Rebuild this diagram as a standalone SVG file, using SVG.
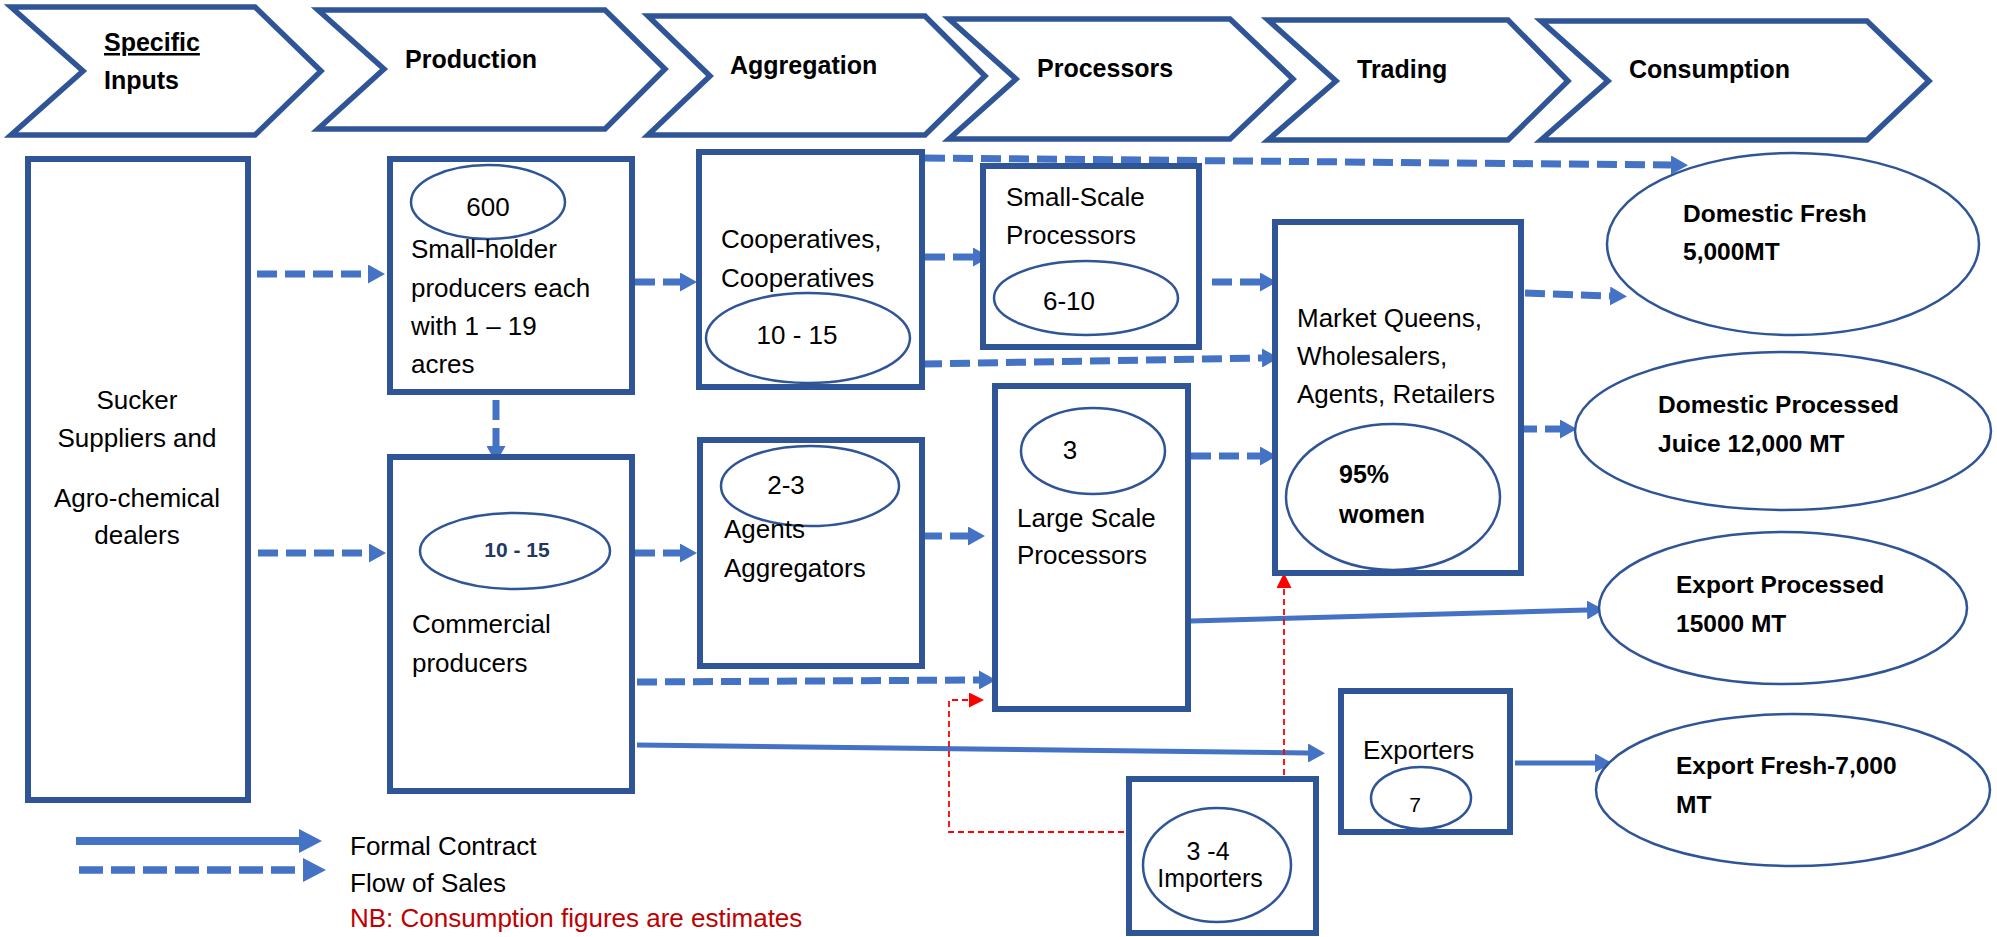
<svg xmlns="http://www.w3.org/2000/svg" width="1997" height="937" viewBox="0 0 1997 937">
<style>
.chev{fill:#fff;stroke:#2F5597;stroke-width:5.5;stroke-linejoin:miter}
.box{fill:#fff;stroke:#2F5597;stroke-width:6}
.ell{fill:#fff;stroke:#2F5597;stroke-width:2.5}
.t{font-family:"Liberation Sans",Arial,sans-serif;font-size:26px;fill:#000}
.hb{font-family:"Liberation Sans",Arial,sans-serif;font-size:25px;font-weight:bold;fill:#000}
.cb{font-family:"Liberation Sans",Arial,sans-serif;font-size:24.5px;font-weight:bold;fill:#000}
.dash{fill:none;stroke:#4472C4;stroke-width:7;stroke-dasharray:20 8}
.solid{fill:none;stroke:#4472C4;stroke-width:5}
.red{fill:none;stroke:#FF0000;stroke-width:1.8;stroke-dasharray:6 4}
</style>
<defs>
<marker id="ah" markerUnits="userSpaceOnUse" markerWidth="17" markerHeight="19" refX="0" refY="9.5" orient="auto">
<polygon points="0,0 17,9.5 0,19" fill="#4472C4"/>
</marker>
<marker id="ahL" markerUnits="userSpaceOnUse" markerWidth="23" markerHeight="24" refX="0" refY="12" orient="auto">
<polygon points="0,0 23,12 0,24" fill="#4472C4"/>
</marker>
<marker id="ahR" markerUnits="userSpaceOnUse" markerWidth="15" markerHeight="15" refX="0" refY="7.5" orient="auto">
<polygon points="0,0 15,7.5 0,15" fill="#FF0000"/>
</marker>
</defs>

<g id="stages">
<g id="stage-inputs">
<polygon class="chev" points="11,7 255,7 321,71 255,135 11,135 83,71"/>
<text class="hb" x="104" y="51" text-decoration="underline">Specific</text>
<text class="hb" x="104" y="89">Inputs</text>
</g>
<g id="stage-production">
<polygon class="chev" points="318,10 605,10 665,69 605,129 318,129 384,69"/>
<text class="hb" x="405" y="68">Production</text>
</g>
<g id="stage-aggregation">
<polygon class="chev" points="648,16 925,16 985,76 925,135 648,135 710,76"/>
<text class="hb" x="730" y="74">Aggregation</text>
</g>
<g id="stage-processors">
<polygon class="chev" points="949,19 1230,19 1293,79 1230,139 949,139 1016,79"/>
<text class="hb" x="1037" y="77">Processors</text>
</g>
<g id="stage-trading">
<polygon class="chev" points="1268,20 1508,20 1568,81 1508,140 1268,140 1336,81"/>
<text class="hb" x="1357" y="78">Trading</text>
</g>
<g id="stage-consumption">
<polygon class="chev" points="1541,21 1867,21 1929,81 1867,140 1541,140 1608,81"/>
<text class="hb" x="1629" y="78">Consumption</text>
</g>
</g>

<g id="connectors">
<path class="dash" d="M257,274 H368" marker-end="url(#ah)"/>
<path class="dash" d="M258,553 H369" marker-end="url(#ah)"/>
<path class="dash" d="M496,400 V446" marker-end="url(#ah)"/>
<path class="dash" d="M635,282 H680" marker-end="url(#ah)"/>
<path class="dash" d="M635,553 H680" marker-end="url(#ah)"/>
<path class="dash" d="M637,682 L979,680" marker-end="url(#ah)"/>
<path class="dash" d="M925,257 H973" marker-end="url(#ah)"/>
<path class="dash" d="M922,364 L1262,358" marker-end="url(#ah)"/>
<path class="dash" d="M925,158 L1671,165" marker-end="url(#ah)"/>
<path class="dash" d="M922,536 H968" marker-end="url(#ah)"/>
<path class="dash" d="M1212,282 H1260" marker-end="url(#ah)"/>
<path class="dash" d="M1191,456 H1260" marker-end="url(#ah)"/>
<path class="dash" d="M1525,293 L1610,296" marker-end="url(#ah)"/>
<path class="dash" d="M1517,429 H1560" marker-end="url(#ah)"/>
<path class="solid" d="M1191,621 L1587,610" marker-end="url(#ah)"/>
<path class="solid" d="M637,745 L1308,753" marker-end="url(#ah)"/>
<path class="solid" d="M1515,763 H1595" marker-end="url(#ah)"/>
<path class="red" d="M1124,832 H949 V700 H969" marker-end="url(#ahR)"/>
<path class="red" d="M1284,795 V588" marker-end="url(#ahR)"/>
</g>

<g id="n-inputs">
<rect class="box" x="28" y="159" width="220" height="641"/>
<text class="t" text-anchor="middle" x="137" y="409">Sucker</text>
<text class="t" text-anchor="middle" x="137" y="447">Suppliers and</text>
<text class="t" text-anchor="middle" x="137" y="507">Agro-chemical</text>
<text class="t" text-anchor="middle" x="137" y="544">dealers</text>
</g>

<g id="n-smallholder">
<rect class="box" x="390" y="159" width="242" height="233"/>
<ellipse class="ell" cx="488" cy="202" rx="77" ry="37"/>
<text class="t" text-anchor="middle" x="488" y="216">600</text>
<text class="t" x="411" y="258">Small-holder</text>
<text class="t" x="411" y="297">producers each</text>
<text class="t" x="411" y="335">with 1 – 19</text>
<text class="t" x="411" y="373">acres</text>
</g>

<g id="n-commercial">
<rect class="box" x="390" y="457" width="242" height="334"/>
<ellipse class="ell" cx="515" cy="551" rx="95" ry="38"/>
<text class="t" text-anchor="middle" x="517" y="557" style="font-size:21px;font-weight:bold;fill:#1F3864">10 - 15</text>
<text class="t" x="412" y="633">Commercial</text>
<text class="t" x="412" y="672">producers</text>
</g>

<g id="n-cooperatives">
<rect class="box" x="699" y="152" width="223" height="235"/>
<text class="t" x="721" y="248">Cooperatives,</text>
<text class="t" x="721" y="287">Cooperatives</text>
<ellipse class="ell" cx="808" cy="338" rx="102" ry="45"/>
<text class="t" text-anchor="middle" x="797" y="344">10 - 15</text>
</g>

<g id="n-agents">
<rect class="box" x="700" y="440" width="222" height="226"/>
<ellipse class="ell" cx="810" cy="486" rx="89" ry="40"/>
<text class="t" text-anchor="middle" x="786" y="494">2-3</text>
<text class="t" x="724" y="538">Agents</text>
<text class="t" x="724" y="577">Aggregators</text>
</g>

<g id="n-smallscale">
<rect class="box" x="983" y="166" width="216" height="181"/>
<text class="t" x="1006" y="206">Small-Scale</text>
<text class="t" x="1006" y="244">Processors</text>
<ellipse class="ell" cx="1086" cy="298" rx="92" ry="37"/>
<text class="t" text-anchor="middle" x="1069" y="310">6-10</text>
</g>

<g id="n-largescale">
<rect class="box" x="995" y="386" width="193" height="323"/>
<ellipse class="ell" cx="1093" cy="451" rx="72" ry="43"/>
<text class="t" text-anchor="middle" x="1070" y="459">3</text>
<text class="t" x="1017" y="527">Large Scale</text>
<text class="t" x="1017" y="564">Processors</text>
</g>

<g id="n-market">
<rect class="box" x="1275" y="222" width="246" height="351"/>
<text class="t" x="1297" y="327">Market Queens,</text>
<text class="t" x="1297" y="365">Wholesalers,</text>
<text class="t" x="1297" y="403">Agents, Retailers</text>
<ellipse class="ell" cx="1393" cy="497" rx="107" ry="73"/>
<text class="t" x="1339" y="483" style="font-weight:bold;font-size:25px">95%</text>
<text class="t" x="1339" y="523" style="font-weight:bold;font-size:25px">women</text>
</g>

<g id="n-exporters">
<rect class="box" x="1341" y="691" width="169" height="141"/>
<text class="t" x="1363" y="759">Exporters</text>
<ellipse class="ell" cx="1421" cy="798" rx="50" ry="31"/>
<text class="t" text-anchor="middle" x="1415" y="812" style="font-size:21px">7</text>
</g>

<g id="n-importers">
<rect class="box" x="1129" y="779" width="187" height="154"/>
<ellipse class="ell" cx="1217" cy="865" rx="74" ry="57"/>
<text class="t" text-anchor="middle" x="1208" y="860" style="font-size:25px">3 -4</text>
<text class="t" text-anchor="middle" x="1210" y="887" style="font-size:25px">Importers</text>
</g>

<g id="n-domfresh">
<ellipse class="ell" cx="1793" cy="244" rx="186" ry="91"/>
<text class="cb" x="1683" y="222">Domestic Fresh</text>
<text class="cb" x="1683" y="260">5,000MT</text>
</g>

<g id="n-domproc">
<ellipse class="ell" cx="1783" cy="431" rx="208" ry="79"/>
<text class="cb" x="1658" y="413">Domestic Processed</text>
<text class="cb" x="1658" y="452">Juice 12,000 MT</text>
</g>

<g id="n-expproc">
<ellipse class="ell" cx="1783" cy="608" rx="184" ry="76"/>
<text class="cb" x="1676" y="593">Export Processed</text>
<text class="cb" x="1676" y="632">15000 MT</text>
</g>

<g id="n-expfresh">
<ellipse class="ell" cx="1793" cy="790" rx="197" ry="76"/>
<text class="cb" x="1676" y="774">Export Fresh-7,000</text>
<text class="cb" x="1676" y="813">MT</text>
</g>

<g id="legend">
<path d="M76,841 H299" fill="none" stroke="#4472C4" stroke-width="8" marker-end="url(#ahL)"/>
<path d="M79,870 H303" fill="none" stroke="#4472C4" stroke-width="7.5" stroke-dasharray="24 8" marker-end="url(#ahL)"/>
<text class="t" x="350" y="855">Formal Contract</text>
<text class="t" x="350" y="892">Flow of Sales</text>
<text class="t" x="350" y="927" style="fill:#C00000">NB: Consumption figures are estimates</text>
</g>
</svg>
